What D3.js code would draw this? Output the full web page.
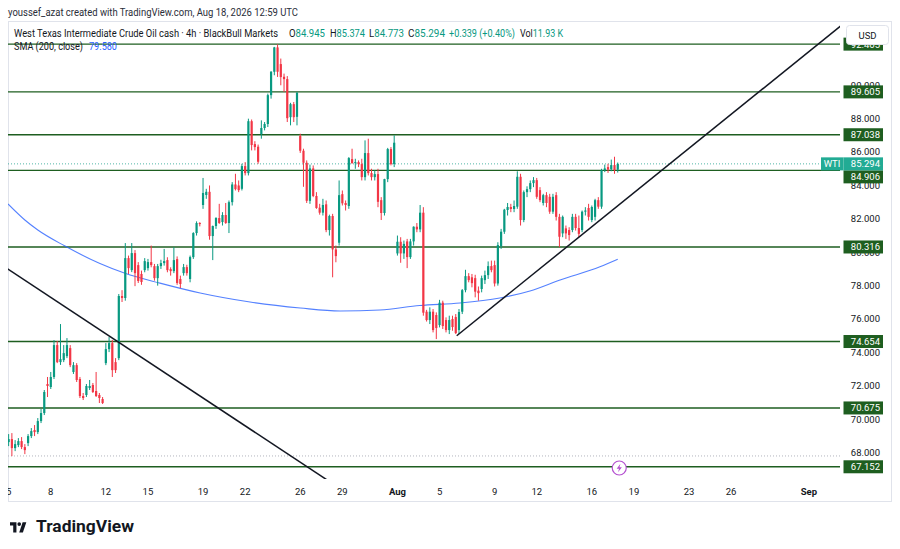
<!DOCTYPE html>
<html>
<head>
<meta charset="utf-8">
<title>WTI 4h - TradingView snapshot</title>
<script src="https://d3js.org/d3.v7.min.js"></script>
<style>
  body { margin: 0; background: #fff; }
  svg { display: block; font-family: Roboto, "Liberation Sans", sans-serif; }
</style>
</head>
<body>
<div id="chart"></div>
<script>
// 4h candles [open, high, low, close], one array per trading week
var week1 = [
  [68.63,69.11,68.39,68.81],[68.81,69.17,67.79,68.27],[68.27,68.75,68.09,68.51],[68.45,68.87,68.33,68.69],
  [68.69,68.93,68.21,68.33],[68.33,68.51,67.91,68.15],[68.57,69.11,68.39,68.99],[68.99,69.47,68.87,69.29],
  [69.35,69.65,68.99,69.23],[69.23,70.07,69.11,69.89],[69.89,70.61,69.77,70.37],[70.37,71.75,70.25,71.63],
  [72.11,72.53,71.33,71.99],[71.93,72.83,71.81,72.53],[72.53,74.74,72.41,74.44],[74.44,74.68,73.36,73.42],
  [73.42,75.70,73.25,73.60],[73.54,74.44,73.42,73.96],[73.78,74.86,73.66,74.44],[74.26,74.44,73.12,73.24],
  [72.83,73.42,72.71,73.24],[73.24,73.36,72.23,72.35],[72.41,72.53,71.27,71.39],[71.39,71.57,71.15,71.27],
  [71.45,72.11,71.33,71.99],[71.87,72.35,71.75,71.99],[72.05,72.17,71.57,71.63],[71.69,72.83,71.33,71.39],
  [71.45,71.57,70.97,71.27],[71.21,71.33,70.91,70.97]
];
var week2 = [
  [73.36,74.56,73.24,74.20],[74.20,74.92,74.02,74.56],[74.56,74.74,72.53,72.94],[73.42,73.66,72.77,72.94],
  [73.66,77.50,73.54,77.38],[77.38,77.73,77.02,77.26],[77.26,80.55,77.10,79.65],[79.65,79.80,78.70,79.05],
  [78.93,80.55,78.81,79.95],[79.95,80.13,77.97,78.75],[79.23,79.41,78.16,78.28],[78.70,78.90,78.05,78.22],
  [78.93,79.65,78.80,79.47],[79.05,79.60,78.90,79.41],[79.41,80.40,79.10,79.23],[79.17,79.30,78.30,78.45],
  [78.45,79.30,78.00,79.17],[79.17,79.55,79.00,79.35],[79.35,80.20,79.20,79.47],[79.53,79.70,78.80,78.93],
  [78.99,79.10,78.60,78.87],[78.87,80.30,78.75,79.53],[79.59,79.75,78.05,78.16],[78.40,78.60,77.85,78.10],
  [78.75,79.30,78.60,79.11],[79.11,79.25,78.60,78.75],[78.40,79.80,78.20,79.71],[79.71,81.20,79.60,81.15],
  [81.15,81.85,81.00,81.75],[81.75,81.80,81.55,81.69]
];
var week3 = [
  [82.83,84.45,82.60,83.55],[83.43,83.80,83.20,83.62],[83.62,84.00,80.75,80.97],[80.97,81.60,79.53,81.57],
  [81.57,82.10,81.40,82.05],[82.05,82.90,81.70,81.75],[81.81,82.40,81.60,82.23],[82.23,82.95,81.70,81.75],
  [81.75,83.10,81.15,83.00],[83.00,84.20,82.80,84.06],[84.06,84.70,83.70,83.78],[84.00,84.30,83.60,83.72],
  [83.80,85.30,83.70,85.16],[85.16,85.40,84.60,84.74],[84.74,88.00,84.60,87.85],[87.85,87.95,86.10,86.42],
  [86.48,86.65,86.10,86.30],[86.32,86.45,85.30,85.42],[87.08,87.90,86.80,87.44],[87.44,87.80,87.30,87.68],
  [87.68,89.50,87.50,89.41],[89.41,90.85,89.20,90.81],[90.81,92.30,90.60,92.27],[92.27,92.45,90.50,90.81],
  [91.27,91.60,90.00,90.49],[90.51,90.70,89.60,90.37],[90.37,90.55,87.80,88.03],[88.09,88.95,87.60,88.87],
  [88.87,89.00,87.80,88.09],[88.11,89.60,87.60,89.55]
];
var week4 = [
  [86.96,87.10,85.95,86.08],[86.08,86.20,83.92,85.36],[85.36,85.50,82.95,83.08],[83.08,85.25,82.90,85.02],
  [85.02,85.20,83.30,83.37],[83.37,83.60,82.60,82.65],[82.67,82.90,82.25,82.37],[82.37,83.20,82.20,82.83],
  [82.87,83.10,81.20,81.33],[81.33,82.25,81.00,82.17],[82.17,82.30,78.50,80.17],[80.17,80.40,79.40,79.77],
  [80.57,84.30,80.40,83.42],[83.48,83.70,82.80,82.93],[82.95,83.10,82.50,82.83],[82.77,85.70,82.60,85.64],
  [85.58,86.20,85.30,85.34],[85.34,85.60,85.00,85.40],[85.40,85.50,85.10,85.28],[85.28,85.60,84.30,84.50],
  [84.50,86.70,84.30,85.94],[85.94,86.80,84.60,84.74],[84.74,85.00,84.30,84.50],[84.50,84.90,84.30,84.68],
  [84.68,85.00,82.70,83.02],[83.12,83.30,81.93,82.35],[82.35,84.40,82.20,84.38],[84.38,86.25,84.20,86.18],
  [86.18,86.30,85.20,85.28],[85.28,87.00,85.10,86.56]
];
var week5 = [
  [79.93,81.00,79.80,80.63],[80.63,80.90,79.37,79.93],[79.93,80.70,79.60,80.50],[80.65,80.80,79.05,79.71],
  [79.71,80.80,79.60,80.65],[80.65,81.55,80.40,81.53],[81.53,81.75,81.20,81.37],[81.37,82.83,81.20,82.37],
  [82.37,82.70,76.20,76.38],[76.44,76.55,75.85,75.94],[75.94,76.70,75.70,76.44],[76.44,76.60,75.20,75.34],
  [76.24,76.40,74.80,75.46],[75.64,77.15,75.50,76.98],[76.98,77.10,75.40,75.58],[75.94,76.10,75.20,75.34],
  [75.34,76.20,75.10,75.94],[76.00,76.20,75.30,75.52],[76.12,76.30,75.10,75.16],[75.34,76.60,75.10,76.42],
  [76.44,77.80,76.30,77.73],[77.73,78.95,77.60,78.57],[78.57,78.75,78.20,78.33],[78.50,78.70,77.90,78.15],
  [78.45,78.65,77.30,77.64],[77.70,77.95,77.10,77.55],[77.80,78.60,77.60,78.45],[78.33,78.90,78.10,78.63],
  [78.63,79.45,78.40,79.17],[79.17,79.50,78.80,78.93]
];
var week6 = [
  [79.23,79.50,77.95,78.13],[78.13,80.60,78.00,80.43],[80.37,81.40,80.20,81.23],[81.23,82.60,81.10,82.55],
  [82.53,82.95,82.20,82.71],[82.71,82.90,82.40,82.59],[82.59,83.10,82.40,82.77],[82.73,84.85,82.60,84.52],
  [84.52,84.70,81.60,81.93],[81.93,83.70,81.80,83.60],[83.60,83.95,83.30,83.78],[83.78,84.30,83.60,84.14],
  [84.14,84.50,83.90,84.32],[84.32,84.45,83.20,83.32],[83.72,83.90,83.00,83.12],[82.95,83.50,82.80,83.42],
  [83.42,83.60,82.70,82.95],[83.32,83.50,82.30,82.43],[82.43,83.50,82.30,83.32],[83.42,83.60,81.90,82.12],
  [82.12,82.30,80.30,80.93],[81.13,82.20,80.90,82.12],[81.43,81.60,80.80,81.13],[81.33,81.50,80.70,81.03],
  [81.33,82.30,81.20,82.12],[82.12,82.30,81.30,81.45],[81.45,82.20,80.90,81.10],[81.33,82.50,81.20,82.43],
  [82.43,82.70,82.20,82.50],[82.65,82.90,81.90,82.12]
];
var week7 = [
  [81.93,82.80,81.80,82.71],[82.12,83.20,81.90,83.12],[83.12,83.30,82.60,82.73],[82.73,85.00,82.60,84.92],
  [84.92,85.25,84.80,85.02],[85.10,85.30,84.75,84.95],[84.97,85.55,84.85,85.22],[85.22,85.72,84.70,84.92],
  [84.945,85.374,84.773,85.294]
];
var candles = [].concat(week1, week2, week3, week4, week5, week6, week7);

// SMA(200) sampled along the drawn line: [bar, value]
var smaPoints = [
  [-0.2,82.89],[5,81.93],[9,81.33],[17.4,80.37],[28,79.34],[35.9,78.74],[46.7,78.15],[59.1,77.56],
  [74.5,77.02],[90,76.66],[102.3,76.48],[114.6,76.54],[126.9,76.81],[139.3,76.96],[151.6,77.26],
  [160.9,77.68],[170.2,78.34],[182.5,79.13],[188,79.58]
];

// horizontal levels drawn on the chart
var levels = [92.465, 89.605, 87.038, 84.906, 80.316, 74.654, 70.675, 67.152];
var lastPrice = 85.294;
var guidePrice = 67.80;

// trend lines, two anchors each [bar, price]
var trendDown = [[-0.2, 78.99], [59, 71.40]];
var trendUp = [[138.3, 75.00], [188.7, 82.89]];

var priceTicks = [68, 70, 72, 74, 76, 78, 80, 82, 84, 86, 88, 90];
var dayTicks = [
  [0,"5"],[13,"8"],[30,"12"],[43,"15"],[60,"19"],[73,"22"],[90,"26"],[103,"29"],[120,"Aug"],
  [133,"5"],[150,"9"],[163,"12"],[180,"16"],[193,"19"],[210,"23"],[223,"26"],[247,"Sep"]
];
var legendName = "West Texas Intermediate Crude Oil cash \u00b7 4h \u00b7 BlackBull Markets";
var legendOHLC = [["O","84.945"],["H","85.374"],["L","84.773"],["C","85.294"],["","+0.339 (+0.40%)"],["Vol","11.93 K"]];
var smaValue = "79.580";

var W = 900, H = 549;
var pane = { left: 8, right: 840, top: 21, bottom: 479 };
var UP = "#089981", DOWN = "#f23645", LEVEL = "#1e5e20", INK = "#131722";

var svg = d3.select("#chart").append("svg")
    .attr("width", W)
    .attr("height", H);

var x = d3.scaleLinear().domain([-0.2, 256.6]).range([pane.left, pane.right]);
var y = d3.scaleLinear().domain([66.42, 93.85]).range([pane.bottom, pane.top]);

svg.append("clipPath").attr("id", "paneClip")
  .append("rect")
    .attr("x", pane.left).attr("y", pane.top)
    .attr("width", pane.right - pane.left).attr("height", pane.bottom - pane.top);

svg.append("clipPath").attr("id", "frameClip")
  .append("rect")
    .attr("x", pane.left).attr("y", pane.top)
    .attr("width", 884).attr("height", 481);

// outer frame of the snapshot
svg.append("rect")
    .attr("x", 8.5).attr("y", 21.5)
    .attr("width", 883).attr("height", 480)
    .attr("fill", "none")
    .attr("stroke", "#e0e3eb");

var plot = svg.append("g").attr("clip-path", "url(#paneClip)");

// faint guide at the bottom
plot.append("line")
    .attr("x1", pane.left).attr("x2", pane.right)
    .attr("y1", y(guidePrice)).attr("y2", y(guidePrice))
    .attr("stroke", "#b2b5be")
    .attr("stroke-dasharray", "1,2");

// horizontal levels
plot.selectAll(".level").data(levels).enter().append("line")
    .attr("class", "level")
    .attr("x1", pane.left).attr("x2", pane.right)
    .attr("y1", function(d) { return y(d); })
    .attr("y2", function(d) { return y(d); })
    .attr("stroke", LEVEL)
    .attr("stroke-width", 1.4);

// last price dotted line
plot.append("line")
    .attr("x1", pane.left).attr("x2", 821)
    .attr("y1", y(lastPrice)).attr("y2", y(lastPrice))
    .attr("stroke", UP)
    .attr("stroke-opacity", 0.7)
    .attr("stroke-dasharray", "1,2");

// SMA 200
plot.append("path")
    .datum(smaPoints)
    .attr("fill", "none")
    .attr("stroke", "#2962ff")
    .attr("stroke-opacity", 0.8)
    .attr("stroke-width", 1.1)
    .attr("d", d3.line()
        .x(function(d) { return x(d[0]); })
        .y(function(d) { return y(d[1]); })
        .curve(d3.curveMonotoneX));

// candles
var bars = plot.selectAll(".bar").data(candles).enter().append("g").attr("class", "bar");
bars.append("line")
    .attr("x1", function(d, i) { return x(i); })
    .attr("x2", function(d, i) { return x(i); })
    .attr("y1", function(d) { return y(d[1]); })
    .attr("y2", function(d) { return y(d[2]); })
    .attr("stroke", function(d) { return d[3] >= d[0] ? UP : DOWN; })
    .attr("stroke-width", 1);
bars.append("rect")
    .attr("x", function(d, i) { return x(i) - 1.1; })
    .attr("width", 2.2)
    .attr("y", function(d) { return y(Math.max(d[0], d[3])); })
    .attr("height", function(d) { return Math.max(1, Math.abs(y(d[0]) - y(d[3]))); })
    .attr("fill", function(d) { return d[3] >= d[0] ? UP : DOWN; });

// trend lines, extended across the pane and clipped
function extendLine(a, b, x0, x1) {
  var slope = (b[1] - a[1]) / (b[0] - a[0]);
  return [[x0, a[1] + slope * (x0 - a[0])], [x1, a[1] + slope * (x1 - a[0])]];
}
var trendSegs = [extendLine(trendDown[0], trendDown[1], -1, 130), extendLine(trendUp[0], trendUp[1], trendUp[0][0], 270)];
plot.selectAll(".trend").data(trendSegs).enter().append("line")
    .attr("class", "trend")
    .attr("x1", function(d) { return x(d[0][0]); })
    .attr("y1", function(d) { return y(d[0][1]); })
    .attr("x2", function(d) { return x(d[1][0]); })
    .attr("y2", function(d) { return y(d[1][1]); })
    .attr("stroke", INK)
    .attr("stroke-width", 1.5);

// event marker (lightning) under the last bar
var ev = svg.append("g").attr("transform", "translate(" + (x(candles.length - 1) + 1.5) + ",468)");
ev.append("circle").attr("r", 7).attr("fill", "#fff").attr("stroke", "#b44fd0").attr("stroke-width", 1.2);
ev.append("path").attr("d", "M1.2,-4.2 L-2.6,0.8 L-0.2,0.8 L-1.2,4.2 L2.6,-0.8 L0.2,-0.8 Z").attr("fill", "#b44fd0");

// price axis tick labels
svg.selectAll(".ptick").data(priceTicks).enter().append("text")
    .attr("class", "ptick")
    .attr("x", 880)
    .attr("y", function(d) { return y(d) + 3.4; })
    .attr("text-anchor", "end")
    .attr("font-size", 9.5)
    .attr("fill", INK)
    .text(function(d) { return d.toFixed(3); });

// level labels on the price axis; push a label down if it collides with the last price tag
var tagH = 13;
var lastY = y(lastPrice);
var levelTags = levels.map(function(v) {
  var cy = y(v);
  if (Math.abs(cy - lastY) < tagH) cy = lastY + tagH;
  return { v: v, cy: cy };
});
var tags = svg.selectAll(".ltag").data(levelTags).enter().append("g").attr("class", "ltag");
tags.append("rect")
    .attr("x", 843.5).attr("width", 39.5)
    .attr("y", function(d) { return d.cy - tagH / 2; })
    .attr("height", tagH)
    .attr("fill", LEVEL);
tags.append("text")
    .attr("x", 880)
    .attr("y", function(d) { return d.cy + 3.4; })
    .attr("text-anchor", "end")
    .attr("font-size", 9.5)
    .attr("fill", "#fff")
    .text(function(d) { return d.v.toFixed(3); });

// last price tag (symbol + price)
svg.append("rect").attr("x", 821).attr("y", lastY - tagH / 2).attr("width", 22.5).attr("height", tagH).attr("fill", "#22ab94");
svg.append("text").attr("x", 832).attr("y", lastY + 3.4).attr("text-anchor", "middle")
    .attr("font-size", 9.5).attr("fill", "#fff").text("WTI");
svg.append("rect").attr("x", 843.5).attr("y", lastY - tagH / 2).attr("width", 39.5).attr("height", tagH).attr("fill", "#22ab94");
svg.append("text").attr("x", 880).attr("y", lastY + 3.4).attr("text-anchor", "end")
    .attr("font-size", 9.5).attr("fill", "#fff").text(lastPrice.toFixed(3));

// currency button
svg.append("rect")
    .attr("x", 846.5).attr("y", 25.5).attr("width", 42).attr("height", 19).attr("rx", 3)
    .attr("fill", "#fff").attr("stroke", "#e0e3eb");
svg.append("text").attr("x", 867.5).attr("y", 38.5).attr("text-anchor", "middle")
    .attr("font-size", 9.5).attr("fill", INK).text("USD");

// time axis
svg.append("g").attr("clip-path", "url(#frameClip)")
  .selectAll(".ttick").data(dayTicks).enter().append("text")
    .attr("class", "ttick")
    .attr("x", function(d) { return x(d[0]); })
    .attr("y", 494.5)
    .attr("text-anchor", "middle")
    .attr("font-size", 9.5)
    .attr("font-weight", function(d) { return isNaN(+d[1]) ? "bold" : "normal"; })
    .attr("fill", INK)
    .text(function(d) { return d[1]; });

// header and legend
svg.append("text").attr("x", 8).attr("y", 16)
    .attr("font-size", 10).attr("fill", "#2a2e39")
    .attr("textLength", 290).attr("lengthAdjust", "spacingAndGlyphs")
    .text("youssef_azat created with TradingView.com, Aug 18, 2026 12:59 UTC");

svg.append("text").attr("x", 14).attr("y", 37)
    .attr("font-size", 10).attr("fill", INK)
    .attr("textLength", 264).attr("lengthAdjust", "spacingAndGlyphs")
    .text(legendName);

// OHLC pieces each get their own slot
var ohlcSlots = [[289, 36], [330, 35], [369, 35], [408, 37], [449, 66], [520, 43]];
legendOHLC.forEach(function(p, k) {
  var t = svg.append("text").attr("x", ohlcSlots[k][0]).attr("y", 37)
      .attr("font-size", 10)
      .attr("textLength", ohlcSlots[k][1]).attr("lengthAdjust", "spacingAndGlyphs");
  if (p[0]) t.append("tspan").attr("fill", INK).text(p[0]);
  t.append("tspan").attr("fill", UP).text(p[1]);
});

svg.append("text").attr("x", 14).attr("y", 50)
    .attr("font-size", 10).attr("fill", INK)
    .attr("textLength", 69).attr("lengthAdjust", "spacingAndGlyphs")
    .text("SMA (200, close)");
svg.append("text").attr("x", 89).attr("y", 50)
    .attr("font-size", 10).attr("fill", "#2962ff")
    .attr("textLength", 28).attr("lengthAdjust", "spacingAndGlyphs")
    .text(smaValue);

// TradingView logo
var logo = svg.append("g").attr("transform", "translate(10,519.5) scale(0.46)");
logo.append("path").attr("d", "M14 28H7V13H0V6h14v22z").attr("fill", INK);
logo.append("path").attr("d", "M28 28h-8l7.5-22h8L28 28z").attr("fill", INK);
logo.append("circle").attr("cx", 20).attr("cy", 10).attr("r", 4).attr("fill", INK);
svg.append("text").attr("x", 36).attr("y", 532)
    .attr("font-size", 16).attr("font-weight", "bold").attr("fill", INK)
    .attr("textLength", 98).attr("lengthAdjust", "spacingAndGlyphs")
    .text("TradingView");
</script>
</body>
</html>
